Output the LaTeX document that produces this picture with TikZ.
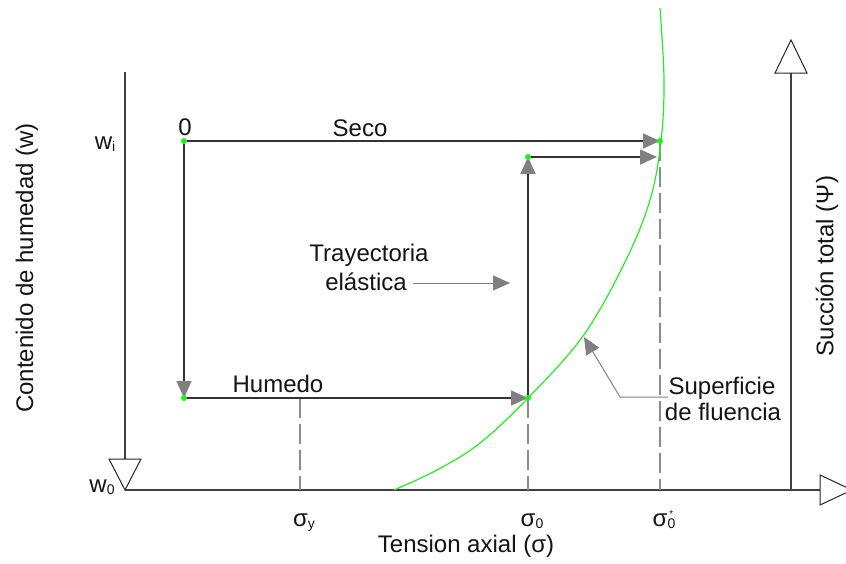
\documentclass[tikz,border=0pt]{standalone}
\usepackage{fontspec}
\setmainfont{Liberation Sans}
\usetikzlibrary{arrows.meta}
\definecolor{grn}{HTML}{22EE22}
\newcommand\sbs[1]{\raisebox{-0.12em}{\fontsize{14}{14}\selectfont #1}}
\begin{document}
\begin{tikzpicture}[x=1pt,y=-1pt,
  lbl/.style={font=\fontsize{24}{27}\selectfont, text=black!92, inner sep=0pt},
  axline/.style={draw=black!75, line width=1.4pt},
  opentri/.style={draw=black!85, fill=white, line width=1pt, line join=miter},
  mv/.style={draw=black!80, line width=1.4pt, -{Triangle[length=17pt,width=15pt,color=gray]}},
  note/.style={draw=gray, line width=1pt},
  notearrow/.style={note, -{Triangle[length=17pt,width=15pt,color=gray]}},
  guide/.style={draw=gray!90, line width=1.2pt, dash pattern=on 20pt off 6pt},
  yield/.style={draw=grn, line width=1.2pt},
  gdot/.style={circle, fill=grn, inner sep=0pt, minimum size=6pt},
]
\useasboundingbox (0,0) rectangle (846,563);
\fill[white] (0,0) rectangle (846,563);

% axes
\coordinate (O) at (125,490);
\coordinate (ytop) at (125,72);
\coordinate (ybot) at (125,459);
\coordinate (xend) at (820,490);
\coordinate (rbase) at (791,490);
\coordinate (rtop) at (791,73);
\draw[axline] (ytop) -- (ybot);
\draw[axline] (O) -- (xend);
\draw[axline] (rbase) -- (rtop);
\draw[opentri] (109,459) -- (141,459) -- (125,490) -- cycle;
\draw[opentri] (775,73) -- (791,40) -- (807,73) -- cycle;
\draw[opentri] (820,475) -- (852,490) -- (820,505) -- cycle;

% key points
\coordinate (P0) at (184,141);
\coordinate (PH) at (184,398);
\coordinate (PE) at (528,398);
\coordinate (PT) at (528,157);
\coordinate (PS) at (660,141);
\coordinate (PT2) at (657,157);
\coordinate (gy) at (300,398);
\coordinate (gyb) at (300,490);
\coordinate (gob) at (528,490);
\coordinate (gsb) at (660,490);

% guides
\draw[guide] (gy) -- (gyb);
\draw[guide] (PE) -- (gob);
\draw[guide] (PS) -- (gsb);

% yield surface
\draw[yield] plot[smooth, tension=0.6] coordinates {(394,490) (437,470) (480,443) (528,398) (583,336) (625,262) (650,200) (661,141) (664,80) (660,8)};

% paths
\draw[mv] (P0) -- (PS);
\draw[mv] (P0) -- (PH);
\draw[mv] (PH) -- (PE);
\draw[mv] (PE) -- (PT);
\draw[mv] (PT) -- (PT2);

% dots
\node[gdot] (d0) at (P0) {};
\node[gdot] (dh) at (PH) {};
\node[gdot] (de) at (PE) {};
\node[gdot] (dt) at (PT) {};
\node[gdot] (ds) at (PS) {};

% labels
\node[lbl, anchor=base] (t0) at (185,135) {0};
\node[lbl, anchor=base] (twi) at (105,149) {w\sbs{i}};
\node[lbl, anchor=base] (tw0) at (102,492) {w\sbs{0}};
\node[lbl, anchor=base] (tseco) at (360,136) {Seco};
\node[lbl, anchor=base] (thum) at (278,392) {Humedo};
\node[lbl, anchor=base] (ttr1) at (369,261) {Trayectoria};
\node[lbl, anchor=base] (ttr2) at (366,290) {elástica};
\coordinate (estart) at (413,283);
\coordinate (etip) at (510,283);
\draw[notearrow] (estart) -- (etip);

\node[lbl, anchor=base] (ts1) at (722,394) {Superficie};
\node[lbl, anchor=base] (ts2) at (723,420) {de fluencia};
\coordinate (sstart) at (668,397);
\coordinate (sbend) at (620,397);
\coordinate (stip) at (584,337);
\draw[notearrow] (sstart) -- (sbend) -- (stip);

\node[lbl, anchor=base] (ty) at (304,526) {σ\sbs{y}};
\node[lbl, anchor=base] (to) at (532,526) {σ\sbs{0}};
\node[lbl, anchor=base] (tos) at (664,526) {σ\sbs{\ooalign{0\cr\hidewidth\raisebox{0.8em}{\fontsize{10}{10}\selectfont *}\hidewidth\cr}}};
\node[lbl, anchor=base] (tax) at (466,552) {Tension axial (σ)};
\node[lbl, rotate=90] (tyl) at (27,268) {Contenido de humedad (w)};
\node[lbl, rotate=90] (tyr) at (827,266) {Succión total (Ψ)};
\end{tikzpicture}
\end{document}
